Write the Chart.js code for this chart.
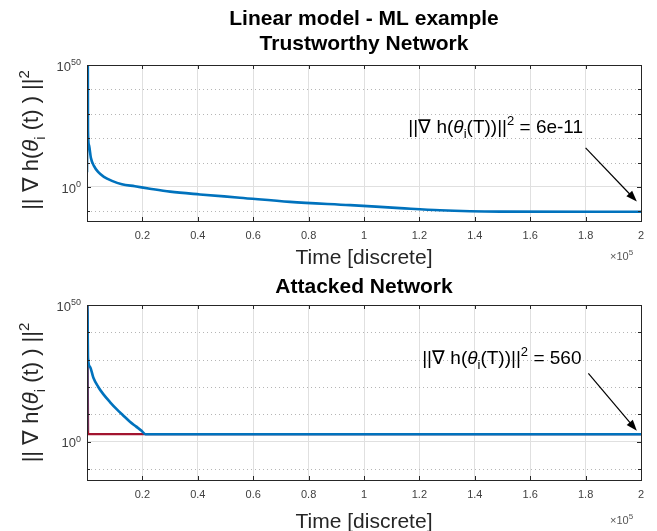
<!DOCTYPE html>
<html>
<head>
<meta charset="utf-8">
<script src="https://cdn.jsdelivr.net/npm/chart.js@4.4.1/dist/chart.umd.min.js"></script>
<style>
html, body { margin: 0; padding: 0; background: #fff; }
#wrap { position: relative; width: 657px; height: 531px; }
canvas { position: absolute; left: 0; }
</style>
</head>
<body>
<div id="wrap">
  <canvas id="topChart" width="657" height="270" style="top:0px"></canvas>
  <canvas id="bottomChart" width="657" height="261" style="top:270px"></canvas>
</div>
<script>
var FONT = "'Liberation Sans', Arial, Helvetica, sans-serif";

// axes
var xMax = 200000;
var xStep = 20000;
var yMin = 1e-14;
var yMax = 1e50;
var yMajorExp = [0, 50];
var yMinorExp = [-10, 10, 20, 30, 40];

// trustworthy network
var trustTime = [0, 300, 350, 700, 1400, 2500, 4000, 6100, 9000, 12600, 17300, 22700, 30000, 40800,
    55200, 73300, 95000, 113000, 127400, 138300, 149100, 200000];
var trustGrad = [1e6, 1e50, 2.5e23, 1.6e17, 8e11, 4e8, 1.3e6, 1.3e4, 3e2, 12, 1.8, 0.18, 1.1e-2, 7.8e-4,
    3.7e-5, 7e-7, 3.2e-8, 2e-9, 2.5e-10, 1e-10, 7e-11, 6e-11];

// attacked network
var attackTime = [0, 150, 360, 1080, 2270, 3960, 5880, 8290, 10700, 12970, 15500, 17660, 19710, 21080, 200000];
var attackGrad = [1e4, 1e50, 5e30, 2.5e27, 3.2e23, 1.6e20, 2.5e17, 3.2e14, 8e11, 5e9, 2e7, 4e5, 1e4, 560, 560];
var attackRedTime = [0, 150, 400, 200000];
var attackRedGrad = [1e4, 1e50, 600, 600];

var BLUE = '#0072BD';
var RED = '#A2142F';

function pts(xs, ys) {
    return xs.map(function (x, i) { return { x: x, y: ys[i] }; });
}

// draw text made of pieces: normal, italic, sub, sup
function drawParts(ctx, x, y, parts, size, align) {
    var fontFor = function (p) {
        var s = (p.sub || p.sup) ? Math.round(size * 0.7) : size;
        return (p.it ? 'italic ' : '') + s + 'px ' + FONT;
    };
    var total = 0;
    parts.forEach(function (p) { ctx.font = fontFor(p); total += ctx.measureText(p.t).width; });
    var cx = x;
    if (align === 'center') cx = x - total / 2;
    if (align === 'right') cx = x - total;
    ctx.textBaseline = 'alphabetic';
    ctx.textAlign = 'left';
    var base = y + size * 0.36;
    parts.forEach(function (p) {
        ctx.font = fontFor(p);
        var dy = p.sub ? size * 0.3 : (p.sup ? -size * 0.42 : 0);
        ctx.fillText(p.t, cx, base + dy);
        cx += ctx.measureText(p.t).width;
    });
    return total;
}

var matlabBox = {
    id: 'matlabBox',
    beforeDatasetsDraw: function (chart) {
        var a = chart.chartArea, ys = chart.scales.y, ctx = chart.ctx;
        ctx.save();
        ctx.strokeStyle = '#b5b5b5';
        ctx.lineWidth = 1;
        ctx.setLineDash([1, 3]);
        yMinorExp.forEach(function (e) {
            var py = Math.round(ys.getPixelForValue(Math.pow(10, e))) + 0.5;
            ctx.beginPath(); ctx.moveTo(a.left, py); ctx.lineTo(a.right, py); ctx.stroke();
        });
        ctx.restore();
    },
    afterDraw: function (chart, args, o) {
        var a = chart.chartArea, xs = chart.scales.x, ys = chart.scales.y, ctx = chart.ctx;
        ctx.save();
        // box and tick marks
        ctx.strokeStyle = '#262626';
        ctx.lineWidth = 1;
        ctx.strokeRect(Math.round(a.left) + 0.5, Math.round(a.top) + 0.5, Math.round(a.right - a.left), Math.round(a.bottom - a.top));
        ctx.beginPath();
        for (var v = xStep; v < xMax; v += xStep) {
            var px = Math.round(xs.getPixelForValue(v)) + 0.5;
            ctx.moveTo(px, a.bottom); ctx.lineTo(px, a.bottom - 4);
            ctx.moveTo(px, a.top); ctx.lineTo(px, a.top + 4);
        }
        yMajorExp.concat(yMinorExp).forEach(function (e) {
            var py = Math.round(ys.getPixelForValue(Math.pow(10, e))) + 0.5;
            var len = yMajorExp.indexOf(e) >= 0 ? 4 : 3;
            ctx.moveTo(a.left, py); ctx.lineTo(a.left + len, py);
            ctx.moveTo(a.right, py); ctx.lineTo(a.right - len, py);
        });
        ctx.stroke();

        // y tick labels 10^0, 10^50
        ctx.fillStyle = '#404040';
        yMajorExp.forEach(function (e) {
            drawParts(ctx, a.left - 6, ys.getPixelForValue(Math.pow(10, e)) + 1,
                [{ t: '10' }, { t: String(e), sup: true }], 13, 'right');
        });

        var cx = (a.left + a.right) / 2;
        ctx.fillStyle = '#000';
        // titles
        ctx.textAlign = 'center';
        ctx.textBaseline = 'middle';
        ctx.font = 'bold 21px ' + FONT;
        o.titles.forEach(function (t) { ctx.fillText(t.text, cx, t.y); });

        // x label and exponent
        ctx.fillStyle = '#262626';
        ctx.font = '21px ' + FONT;
        ctx.fillText('Time [discrete]', cx, o.xTitleY);
        ctx.fillStyle = '#555';
        drawParts(ctx, a.right - 31, o.expY, [{ t: '\u00d710' }, { t: '5', sup: true }], 11, 'left');

        // y label (rotated)
        ctx.save();
        ctx.translate(30, (a.top + a.bottom) / 2 + o.yLabelShift);
        ctx.rotate(-Math.PI / 2);
        ctx.fillStyle = '#262626';
        drawParts(ctx, 0, 0, [
            { t: '|| \u2207 h(' }, { t: '\u03b8', it: true }, { t: 'i', sub: true },
            { t: ' (t) ) ||' }, { t: '2', sup: true }
        ], 22, 'center');
        ctx.restore();

        // annotation with arrow
        var n = o.note;
        ctx.fillStyle = '#000';
        drawParts(ctx, xs.getPixelForValue(n.textX), ys.getPixelForValue(n.textY), [
            { t: '||\u2207 h(' }, { t: '\u03b8', it: true }, { t: 'i', sub: true },
            { t: '(T))||' }, { t: '2', sup: true }, { t: ' = ' + n.value }
        ], 19, 'left');
        var x0 = xs.getPixelForValue(n.fromX), y0 = ys.getPixelForValue(n.fromY);
        var x1 = xs.getPixelForValue(n.toX), y1 = ys.getPixelForValue(n.toY);
        var ang = Math.atan2(y1 - y0, x1 - x0);
        ctx.strokeStyle = '#000';
        ctx.lineWidth = 1.2;
        ctx.beginPath(); ctx.moveTo(x0, y0);
        ctx.lineTo(x1 - 8 * Math.cos(ang), y1 - 8 * Math.sin(ang)); ctx.stroke();
        ctx.beginPath();
        ctx.moveTo(x1, y1);
        ctx.lineTo(x1 - 11 * Math.cos(ang) + 4 * Math.sin(ang), y1 - 11 * Math.sin(ang) - 4 * Math.cos(ang));
        ctx.lineTo(x1 - 11 * Math.cos(ang) - 4 * Math.sin(ang), y1 - 11 * Math.sin(ang) + 4 * Math.cos(ang));
        ctx.closePath(); ctx.fill();
        ctx.restore();
    }
};

function makeChart(id, datasets, cfg) {
    return new Chart(document.getElementById(id), {
        type: 'line',
        data: { datasets: datasets },
        options: {
            responsive: false,
            animation: false,
            devicePixelRatio: 1,
            layout: { padding: { left: 0, right: 16, top: cfg.top, bottom: 0 } },
            elements: { point: { radius: 0 } },
            plugins: { legend: { display: false }, tooltip: { enabled: false }, matlabBox: cfg },
            scales: {
                x: {
                    type: 'linear', min: 0, max: xMax,
                    afterFit: function (s) { s.height = cfg.xAxisH; },
                    grid: { color: '#e0e0e0', drawTicks: false },
                    border: { display: false },
                    ticks: {
                        stepSize: xStep, autoSkip: false, maxRotation: 0, padding: 8,
                        color: '#404040', font: { family: FONT, size: 11 },
                        callback: function (v) { return v === 0 ? '' : String(parseFloat((v / 1e5).toFixed(1))); }
                    }
                },
                y: {
                    type: 'logarithmic', min: yMin, max: yMax,
                    afterFit: function (s) { s.width = 87; },
                    afterBuildTicks: function (s) {
                        s.ticks = yMajorExp.map(function (e) { return { value: Math.pow(10, e) }; });
                    },
                    grid: { color: '#e0e0e0', drawTicks: false },
                    border: { display: false },
                    ticks: { display: false }
                }
            }
        },
        plugins: [matlabBox]
    });
}

makeChart('topChart', [
    { data: pts(trustTime, trustGrad), borderColor: BLUE, borderWidth: 2.6, cubicInterpolationMode: 'monotone', fill: false }
], {
    top: 65, xAxisH: 49, xTitleY: 258, expY: 256, yLabelShift: -3,
    titles: [{ text: 'Linear model - ML example', y: 19 }, { text: 'Trustworthy Network', y: 44 }],
    note: { value: '6e-11', textX: 116000, textY: 1e25, fromX: 180000, fromY: 1e16, toX: 198500, toY: 1e-6 }
});

makeChart('bottomChart', [
    { data: pts(attackTime, attackGrad), borderColor: BLUE, borderWidth: 2.6, cubicInterpolationMode: 'monotone', fill: false, order: 0 },
    { data: pts(attackRedTime, attackRedGrad), borderColor: RED, borderWidth: 2.2, tension: 0, fill: false, order: 1 }
], {
    top: 35, xAxisH: 51, xTitleY: 252, expY: 250, yLabelShift: 0,
    titles: [{ text: 'Attacked Network', y: 17 }],
    note: { value: '560', textX: 121000, textY: 1e31, fromX: 181000, fromY: 1e25, toX: 198500, toY: 1e4 }
});
</script>
</body>
</html>
